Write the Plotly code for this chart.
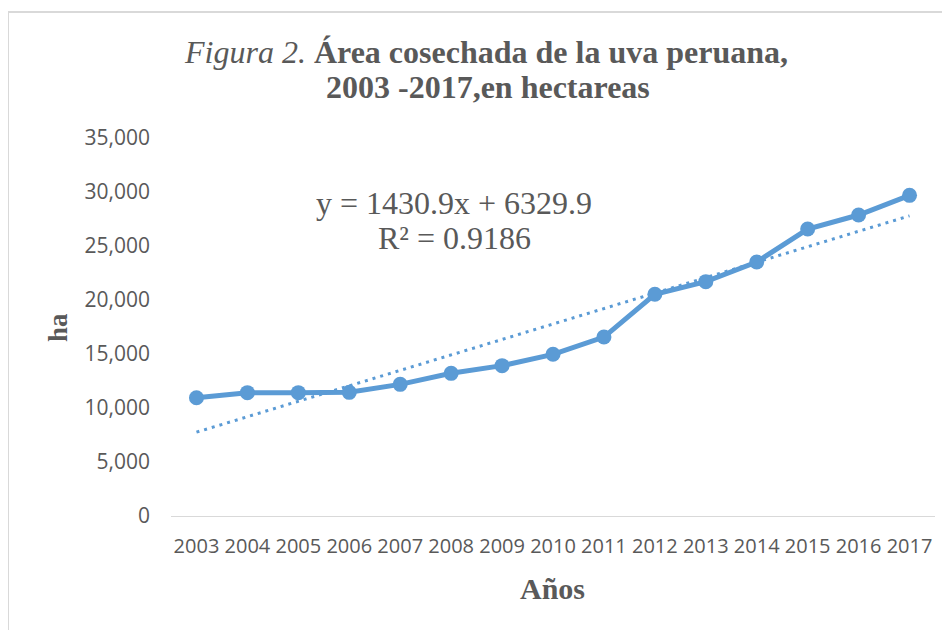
import plotly.graph_objects as go

years = ["2003", "2004", "2005", "2006", "2007", "2008", "2009", "2010",
         "2011", "2012", "2013", "2014", "2015", "2016", "2017"]
area_ha = [10950, 11420, 11420, 11450, 12190, 13210, 13920, 14970,
           16570, 20530, 21700, 23520, 26570, 27870, 29690]
trend_slope = 1430.9
trend_intercept = 6329.9
y_ticks = [0, 5000, 10000, 15000, 20000, 25000, 30000, 35000]

trend = [trend_slope * (i + 1) + trend_intercept for i in range(len(years))]

blue = "#5B9BD5"
grey = "#595959"
serif = "Liberation Serif, Times New Roman, serif"
sans = "Open Sans, Carlito, Calibri, sans-serif"

# page body has an 8px margin; work in page coordinates and shift
OFF = 8
W, H = 950 - OFF, 630 - OFF
L, R, T, B = 163, 15, 130, 114
pw, ph = W - L - R, H - T - B


def px(x):
    return (x - OFF - L) / pw


def py(y):
    return (H - B - (y - OFF)) / ph


fig = go.Figure()
fig.add_trace(go.Scatter(x=years, y=trend, mode="lines",
                         line=dict(color=blue, width=3, dash="3px,5px"),
                         hoverinfo="skip", showlegend=False))
fig.add_trace(go.Scatter(x=years, y=area_ha, mode="lines+markers",
                         line=dict(color=blue, width=5),
                         marker=dict(color=blue, size=15),
                         showlegend=False))

ann = []


def txt(text, x, y, size, angle=0):
    ann.append(dict(text=text, xref="paper", yref="paper", x=px(x), y=py(y),
                    xanchor="center", yanchor="middle", showarrow=False,
                    textangle=angle,
                    font=dict(family=serif, size=size, color=grey)))


txt("<i>Figura 2.</i> <b>Área cosechada de la uva peruana,</b>", 486, 52, 32)
txt("<b>2003 -2017,en hectareas</b>", 488, 87, 32)
txt("y = 1430.9x + 6329.9", 454, 203, 32)
txt("R² = 0.9186", 454, 238, 32)
txt("<b>Años</b>", 552, 588, 30)
txt("<b>ha</b>", 58, 328, 27, -90)

fig.update_layout(
    width=W, height=H,
    margin=dict(l=L, r=R, t=T, b=B, autoexpand=False),
    paper_bgcolor="white", plot_bgcolor="white",
    xaxis=dict(type="category", range=[-0.5, 14.5], showgrid=False,
               showline=True, linecolor="#D9D9D9", linewidth=1.3, ticks="",
               ticklabelstandoff=12,
               tickfont=dict(family=sans, size=20, color=grey)),
    yaxis=dict(range=[0, 35000], tickvals=y_ticks, tickformat=",",
               showgrid=False, zeroline=False, showline=False, ticks="",
               ticklabelstandoff=20,
               tickfont=dict(family=sans, size=21, color=grey)),
    shapes=[dict(type="rect", xref="paper", yref="paper",
                 x0=px(8), x1=px(1100), y0=py(800), y1=py(12),
                 line=dict(color="#D9D9D9", width=2), layer="below")],
    annotations=ann,
)

fig.write_html("out.html")
